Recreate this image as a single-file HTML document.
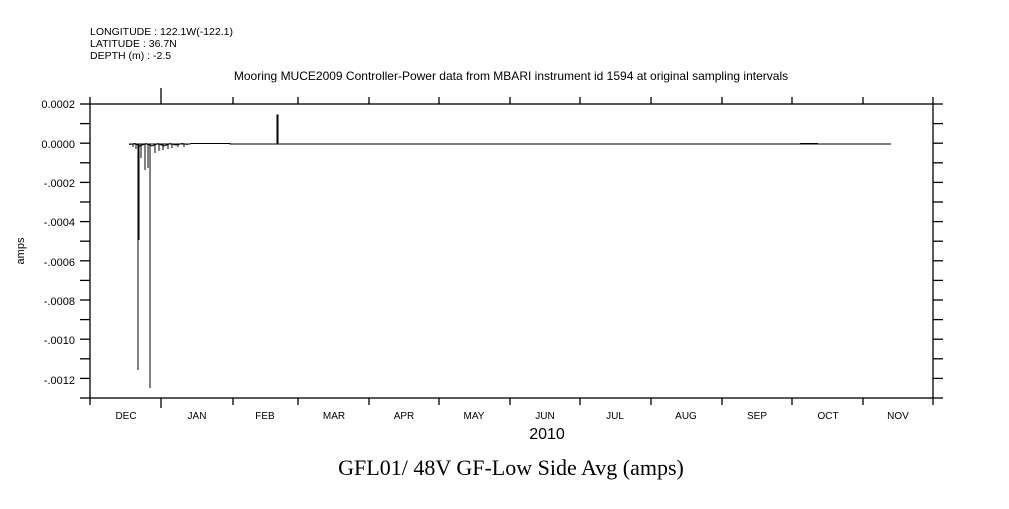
<!DOCTYPE html>
<html><head><style>
body{margin:0;background:#fff;width:1009px;height:504px;overflow:hidden}
text{font-family:"Liberation Sans",sans-serif;fill:#000}
</style></head><body>
<svg width="1009" height="504" xmlns="http://www.w3.org/2000/svg">
<text x="90" y="35" font-size="10.5">LONGITUDE : 122.1W(-122.1)</text>
<text x="90" y="47" font-size="10.5">LATITUDE : 36.7N</text>
<text x="90" y="59" font-size="10.5">DEPTH (m) : -2.5</text>
<text x="511" y="80" font-size="12" text-anchor="middle">Mooring MUCE2009 Controller-Power data from MBARI instrument id 1594 at original sampling intervals</text>
<rect x="90" y="104" width="843" height="294" fill="none" stroke="#000" stroke-width="1.3"/>
<g stroke="#000" stroke-width="1.3" id="t"></g>
<g font-size="11" text-anchor="end">
<text x="75" y="108">0.0002</text><text x="75" y="148">0.0000</text>
<text x="75" y="187">-.0002</text><text x="75" y="226">-.0004</text>
<text x="75" y="266">-.0006</text><text x="75" y="305">-.0008</text>
<text x="75" y="344">-.0010</text><text x="75" y="384">-.0012</text>
</g>
<text transform="translate(24,251) rotate(-90)" font-size="11" text-anchor="middle">amps</text>
<g font-size="10" text-anchor="middle">
<text x="126" y="419">DEC</text><text x="197" y="419">JAN</text><text x="265" y="419">FEB</text>
<text x="334" y="419">MAR</text><text x="404" y="419">APR</text><text x="474" y="419">MAY</text>
<text x="545" y="419">JUN</text><text x="615" y="419">JUL</text><text x="686" y="419">AUG</text>
<text x="757" y="419">SEP</text><text x="828" y="419">OCT</text><text x="898" y="419">NOV</text>
</g>
<text x="547" y="439" font-size="16" text-anchor="middle">2010</text>
<text x="511" y="475" font-size="22" text-anchor="middle" style="font-family:'Liberation Serif',serif">GFL01/ 48V GF-Low Side Avg (amps)</text>
<g stroke="#000" stroke-width="1" fill="none">
<path d="M129 144H190L191 143.5H230V144H276V144H277V115H278V144H891"/>
<path d="M800 143.5H818"/>
<path d="M138 144V370M139 144V240M150 144V388M145 144V170M148 144V168M141 144V158M155 144V153M159 144V151M163 144V150M168 144V149M172 144V148M178 144V147M184 144V147M133 144V147M136 144V149"/>
<path d="M129 144.5L135 143.5L140 146L146 143.5L152 146L158 143.5L164 146L170 143.5L176 145L182 143.5L188 144.5"/>
</g>
</svg>
<script>
var g=document.getElementById('t'),s='';
for(var i=0;i<16;i++){var y=104+i*19.6;s+='<line x1="80" x2="90" y1="'+y+'" y2="'+y+'"/><line x1="933" x2="943" y1="'+y+'" y2="'+y+'"/>';}
var xs=[90,161,233,298,369,439,510,580,651,722,792,863,933];
xs.forEach(function(x,k){var l=k==1?10:7;s+='<line x1="'+x+'" x2="'+x+'" y1="398" y2="'+(398+l)+'"/><line x1="'+x+'" x2="'+x+'" y1="104" y2="'+(104-(k==1?16:7))+'"/>';});
g.innerHTML=s;
</script>
</body></html>
